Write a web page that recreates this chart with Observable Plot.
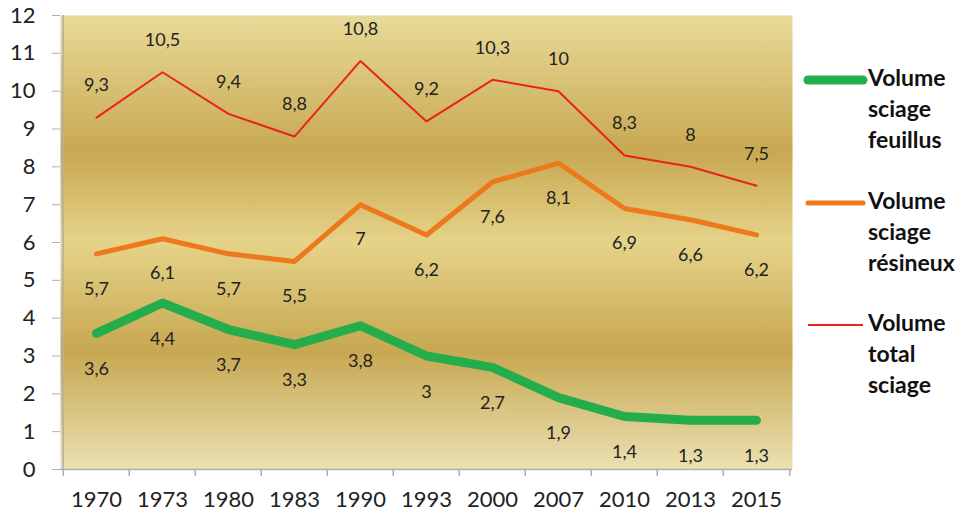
<!DOCTYPE html>
<html>
<head>
<meta charset="utf-8">
<script src="https://cdn.jsdelivr.net/npm/d3@7"></script>
<script src="https://cdn.jsdelivr.net/npm/@observablehq/plot@0.6"></script>
<style>
  html, body { margin: 0; padding: 0; background: #fff; }
  #wrap { position: relative; width: 966px; height: 517px; }
  #wrap svg g[aria-label="y-axis tick"] { stroke: #b0b0b0; }
  .leg { position: absolute; font-family: Lato, "Open Sans", sans-serif; font-weight: bold; font-size: 23px; color: #111; line-height: 31px; }
  .legline { position: absolute; }
</style>
</head>
<body>
<div id="wrap"></div>
<script>
const years = ["1970", "1973", "1980", "1983", "1990", "1993", "2000", "2007", "2010", "2013", "2015"];
const feuillus = [3.6, 4.4, 3.7, 3.3, 3.8, 3, 2.7, 1.9, 1.4, 1.3, 1.3];
const resineux = [5.7, 6.1, 5.7, 5.5, 7, 6.2, 7.6, 8.1, 6.9, 6.6, 6.2];
const total = [9.3, 10.5, 9.4, 8.8, 10.8, 9.2, 10.3, 10, 8.3, 8, 7.5];
const yTicks = [0, 1, 2, 3, 4, 5, 6, 7, 8, 9, 10, 11, 12];
const legendLabels = [["Volume", "sciage", "feuillus"], ["Volume", "sciage", "résineux"], ["Volume", "total", "sciage"]];
const colors = ["#25ad4c", "#ec7a1c", "#e8231c"];
const widths = [9, 5, 2];

const rows = years.map((year, i) => ({year, feuillus: feuillus[i], resineux: resineux[i], total: total[i]}));
const fmt = v => String(v).replace(".", ",");

const W = 966, H = 517, mL = 60, mR = 174, mT = 15, mB = 48;
const bw = (W - mL - mR) / years.length;
const axisGray = "#b0b0b0";

const chart = Plot.plot({
  width: W, height: H,
  marginLeft: mL, marginRight: mR, marginTop: mT, marginBottom: mB,
  style: {fontFamily: "Lato, 'Open Sans', sans-serif", fontSize: "22px", color: "#222", background: "transparent"},
  x: {type: "band", domain: years, padding: 0, tickSize: 0, tickPadding: 22, label: null},
  y: {domain: [0, 12], ticks: yTicks, tickSize: 8, tickPadding: 17, label: null},
  marks: [
    Plot.frame({fill: "url(#bgGrad)", stroke: "none"}),
    Plot.ruleY([0], {stroke: axisGray, strokeWidth: 1.5}),
    Plot.ruleX([years[0]], {stroke: axisGray, strokeWidth: 1.5, dx: -bw / 2}),
    Plot.ruleX(years, {x: d => d, y1: 0, y2: 0, insetBottom: -7, stroke: axisGray, strokeWidth: 1.5, dx: -bw / 2}),
    Plot.ruleX([years[years.length - 1]], {y1: 0, y2: 0, insetBottom: -7, stroke: axisGray, strokeWidth: 1.5, dx: bw / 2}),
    Plot.line(rows, {x: "year", y: "feuillus", stroke: colors[0], strokeWidth: widths[0], strokeLinecap: "round", strokeLinejoin: "round"}),
    Plot.line(rows, {x: "year", y: "resineux", stroke: colors[1], strokeWidth: widths[1], strokeLinecap: "round", strokeLinejoin: "round"}),
    Plot.line(rows, {x: "year", y: "total", stroke: colors[2], strokeWidth: widths[2], strokeLinejoin: "miter"}),
    Plot.text(rows, {x: "year", y: "feuillus", text: d => fmt(d.feuillus), dy: 36, fontSize: 18, fill: "#222"}),
    Plot.text(rows, {x: "year", y: "resineux", text: d => fmt(d.resineux), dy: 35, fontSize: 18, fill: "#222"}),
    Plot.text(rows, {x: "year", y: "total", text: d => fmt(d.total), dy: -32, fontSize: 18, fill: "#222"})
  ]
});

// background gradient
const defs = d3.select(chart).insert("defs", ":first-child");
const grad = defs.append("linearGradient").attr("id", "bgGrad").attr("x1", 0).attr("y1", 0).attr("x2", 0).attr("y2", 1);
[[0, "#e8da98"], [0.30, "#c8a851"], [0.50, "#e5d389"], [0.74, "#c7a751"], [1, "#ebe1b2"]]
  .forEach(([o, c]) => grad.append("stop").attr("offset", o).attr("stop-color", c));

const wrap = document.getElementById("wrap");
wrap.appendChild(chart);

// legend
const legTops = [62, 185, 307];
legendLabels.forEach((lines, k) => {
  const top = legTops[k];
  const s = document.createElementNS("http://www.w3.org/2000/svg", "svg");
  s.setAttribute("class", "legline");
  s.setAttribute("width", 70); s.setAttribute("height", 20);
  s.style.left = "800px"; s.style.top = (top + 8) + "px";
  const ln = document.createElementNS("http://www.w3.org/2000/svg", "line");
  ln.setAttribute("x1", 8); ln.setAttribute("x2", 63); ln.setAttribute("y1", 10); ln.setAttribute("y2", 10);
  ln.setAttribute("stroke", colors[k]); ln.setAttribute("stroke-width", widths[k]);
  ln.setAttribute("stroke-linecap", k < 2 ? "round" : "butt");
  s.appendChild(ln);
  wrap.appendChild(s);
  const d = document.createElement("div");
  d.className = "leg";
  d.style.left = "868px"; d.style.top = top + "px";
  d.innerHTML = lines.join("<br>");
  wrap.appendChild(d);
});
</script>
</body>
</html>
